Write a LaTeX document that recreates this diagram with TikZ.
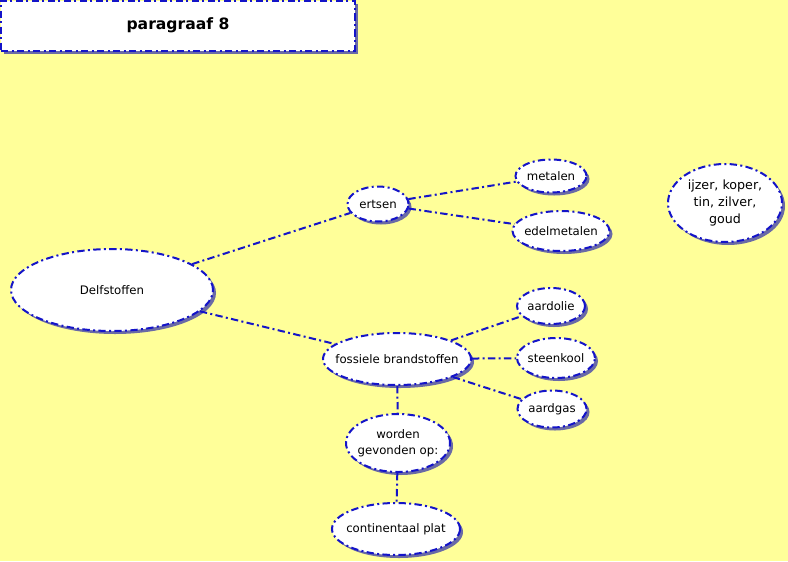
\documentclass[tikz,border=0pt]{standalone}
\usepackage{fontspec}
\setmainfont{DejaVu Sans}
\usetikzlibrary{shapes.geometric,shadows}
\definecolor{MAPyellow}{HTML}{FFFF99}
\definecolor{MAPblue}{HTML}{1414C8}
\definecolor{MAPshadow}{HTML}{6A6AA6}
\tikzset{
  dashdot/.style={line width=1.5pt, dash pattern=on 5.5pt off 2.5pt on 1.5pt off 2.5pt},
  bubble/.style={ellipse, draw=MAPblue, fill=white, dashdot, inner xsep=-30pt, inner ysep=0pt, align=center, text=black, font=\fontsize{8.8}{12.3}\selectfont, drop shadow={shadow xshift=2.25pt, shadow yshift=-2.25pt, fill=MAPshadow, opacity=1}},
  titlebox/.style={rectangle, draw=MAPblue, fill=white, dashdot, inner sep=0pt, align=center, text=black, font=\fontsize{11.7}{14}\selectfont\bfseries, drop shadow={shadow xshift=2.25pt, shadow yshift=-2.25pt, fill=MAPshadow, opacity=1}},
  link/.style={draw=MAPblue, dashdot}
}
\begin{document}
\begin{tikzpicture}[x=0.75pt, y=-0.75pt]
  \fill[MAPyellow] (0,0) rectangle (788,561);
  \useasboundingbox (0,0) rectangle (788,561);
  % title
  \node[titlebox, minimum width=265.5pt, minimum height=37.5pt] (title) at (178,25.5) {paragraaf 8};
  % main concept
  \node[bubble, minimum width=151.5pt, minimum height=61.5pt] (delf) at (112,290) {Delfstoffen};
  % ertsen branch
  \node[bubble, minimum width=45.75pt, minimum height=26.25pt] (ertsen) at (378,204) {ertsen};
  \node[bubble, minimum width=53.25pt, minimum height=24.75pt] (metalen) at (551,176) {metalen};
  \node[bubble, minimum width=72.75pt, minimum height=30pt] (edel) at (561,231) {edelmetalen};
  \node[bubble, minimum width=85.5pt, minimum height=58.5pt, font=\fontsize{9.5}{12.8}\selectfont] (ijzer) at (725,203) {ijzer, koper,\\tin, zilver,\\goud};
  % fossiele branch
  \node[bubble, minimum width=111pt, minimum height=39pt] (fossiel) at (397,359) {fossiele brandstoffen};
  \node[bubble, minimum width=51pt, minimum height=27pt] (olie) at (551,306) {aardolie};
  \node[bubble, minimum width=58.5pt, minimum height=30pt] (kool) at (556,358) {steenkool};
  \node[bubble, minimum width=51.75pt, minimum height=27.75pt] (gas) at (552,409) {aardgas};
  \node[bubble, minimum width=78pt, minimum height=43.5pt] (worden) at (398,443) {worden\\gevonden op:};
  \node[bubble, minimum width=96pt, minimum height=39pt] (plat) at (396,529) {continentaal plat};
  % links
  \draw[link] (delf) -- (ertsen);
  \draw[link] (delf) -- (fossiel);
  \draw[link] (ertsen) -- (metalen);
  \draw[link] (ertsen) -- (edel);
  \draw[link] (fossiel) -- (olie);
  \draw[link] (fossiel) -- (kool);
  \draw[link] (fossiel) -- (gas);
  \draw[link] (fossiel) -- (worden);
  \draw[link] (worden) -- (plat);
\end{tikzpicture}
\end{document}
